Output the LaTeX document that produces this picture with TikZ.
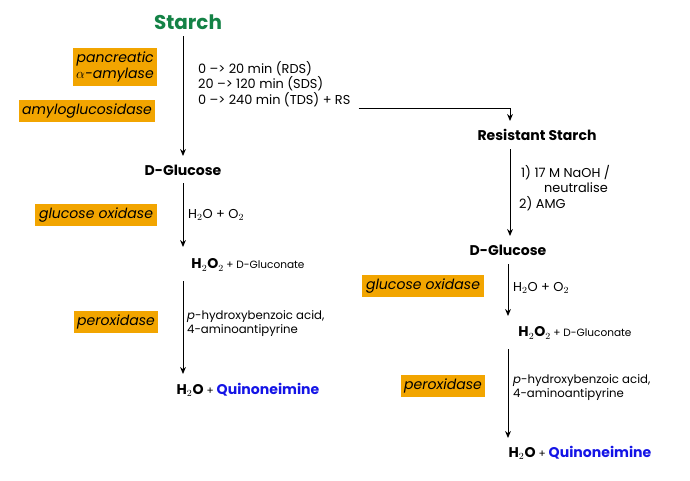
\documentclass[tikz,border=0pt]{standalone}
\usepackage{fontspec}
\setmainfont{Poppins}
\usetikzlibrary{arrows.meta}
\definecolor{enzyme}{RGB}{242,165,0}
\definecolor{starchgreen}{RGB}{20,130,70}
\definecolor{quino}{RGB}{20,20,230}

\begin{document}
\begin{tikzpicture}[x=0.3mm, y=-0.3mm,
    every node/.style={font=\fontsize{11}{13}\selectfont},
    enz/.style={fill=enzyme, inner sep=3pt, font=\fontsize{12}{14}\selectfont\itshape, align=right},
    cmp/.style={font=\fontsize{12}{14}\selectfont\bfseries},
    cond/.style={anchor=west, align=left},
    small/.style={anchor=west, align=left, font=\fontsize{10}{12}\selectfont},
    rxn/.style={-{Stealth[length=6pt,width=5pt]}, line width=0.8pt}]
\useasboundingbox (0,0) rectangle (690,480);
% left branch
    \node[cmp, text=starchgreen, font=\fontsize{17}{19}\selectfont\bfseries] (starch) at (188,22) {Starch};
    \node[cmp] (glcA) at (183,170) {D-Glucose};
    \node[cmp] (peroxA) at (248,265) {H$_2$O$_2$\,{\mdseries\small+ D-Gluconate}};
    \node[cmp] (quinA) at (248,390) {H$_2$O {\mdseries\small+} \textcolor{quino}{Quinoneimine}};
    \draw[rxn] (183,36) -- (183,156);
    \draw[rxn] (183,183) -- (183,247);
    \draw[rxn] (183,281) -- (183,374);
    \node[enz] (amyl) at (115,67) {pancreatic\\$\alpha$-amylase};
    \node[enz] (amg) at (87,111) {amyloglucosidase};
    \node[enz] (goxA) at (96,215) {glucose oxidase};
    \node[enz] (poxA) at (116,322) {peroxidase};
    \node[cond] (times) at (194,84) {0 –> 20 min (RDS)\\20 –> 120 min (SDS)\\0 –> 240 min (TDS) + RS};
    \node[cond] (oxA) at (184,215) {H$_2$O + O$_2$};
    \node[small] (reagA) at (183,324) {\textit{p}-hydroxybenzoic acid,\\4-aminoantipyrine};
% right branch
    \node[cmp] (rs) at (537,135) {Resistant Starch};
    \node[cmp] (glcB) at (508,250) {D-Glucose};
    \node[cmp] (peroxB) at (575,333) {H$_2$O$_2$\,{\mdseries\small+ D-Gluconate}};
    \node[cmp] (quinB) at (580,453) {H$_2$O {\mdseries\small+} \textcolor{quino}{Quinoneimine}};
    \coordinate (bend) at (510,108);
    \draw[rxn] (times.east |- bend) ++(4,0) -- (bend) -- (510,121);
    \draw[rxn] (510,149) -- (510,236);
    \draw[rxn] (508,264) -- (508,316);
    \draw[rxn] (508,349) -- (508,438);
    \node[cond, align=center] (naoh) at (515,188) {1) 17 M NaOH /\\\hspace*{1.6em}neutralise\\2) AMG\hspace*{3.6em}};
    \node[enz] (goxB) at (423,286) {glucose oxidase};
    \node[enz] (poxB) at (443,386) {peroxidase};
    \node[cond] (oxB) at (509,288) {H$_2$O + O$_2$};
    \node[small] (reagB) at (509,388) {\textit{p}-hydroxybenzoic acid,\\4-aminoantipyrine};
\end{tikzpicture}
\end{document}
